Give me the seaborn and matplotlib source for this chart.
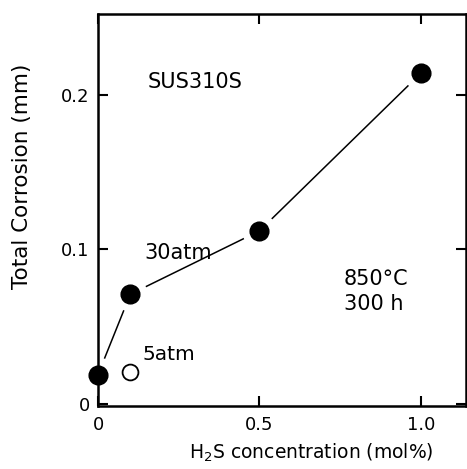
import matplotlib
matplotlib.use("Agg")
import matplotlib.pyplot as plt
import seaborn as sns
import pandas as pd

# ---- data ----
conc_30 = [0.0, 0.1, 0.5, 1.0]
corr_30 = [0.019, 0.071, 0.112, 0.214]
conc_5 = [0.1]
corr_5 = [0.021]
xticks = [0.0, 0.5, 1.0]
xticklabels = ["0", "0.5", "1.0"]
yticks = [0.0, 0.1, 0.2]
yticklabels = ["0", "0.1", "0.2"]

sns.set_theme(style="ticks")
plt.rcParams['font.family'] = ['DejaVu Sans']
plt.rcParams['text.color'] = 'black'
plt.rcParams['axes.labelcolor'] = 'black'
plt.rcParams['xtick.color'] = 'black'
plt.rcParams['ytick.color'] = 'black'

df30 = pd.DataFrame({"conc": conc_30, "corr": corr_30})
df5 = pd.DataFrame({"conc": conc_5, "corr": corr_5})

fig = plt.figure(figsize=(4.67, 4.69), dpi=100)
ax = fig.add_axes([98/467, 63/469, 368/467, 392/469])

sns.lineplot(data=df30, x="conc", y="corr", ax=ax, color="black", linewidth=1.1,
             zorder=2, estimator=None, sort=False)
# white halos to create gaps between line and markers
sns.scatterplot(data=df30, x="conc", y="corr", ax=ax, s=620, color="white",
                edgecolor="none", zorder=3, clip_on=False, legend=False)
sns.scatterplot(data=df30, x="conc", y="corr", ax=ax, s=180, color="black",
                edgecolor="black", zorder=6, clip_on=False, legend=False)
sns.scatterplot(data=df5, x="conc", y="corr", ax=ax, s=130, color="white",
                edgecolor="black", linewidth=1.3, zorder=6, clip_on=False, legend=False)

ax.set_xlim(0.0, 1.14)
ax.set_ylim(-0.0013, 0.2524)

for side in ["left", "right", "top", "bottom"]:
    ax.spines[side].set_linewidth(1.8)
    ax.spines[side].set_color("black")
    ax.spines[side].set_zorder(5)

ax.set_xticks(xticks)
ax.set_xticklabels(xticklabels)
ax.set_yticks(yticks)
ax.set_yticklabels(yticklabels)
ax.tick_params(axis="both", direction="in", length=7, width=1.5, colors="black",
               labelsize=13, top=True, right=True)
ax.tick_params(axis="x", pad=7)
ax.tick_params(axis="y", pad=6)

ax.set_xlabel("H$_2$S concentration (mol%)", fontsize=13.5, color="black")
ax.set_ylabel("Total Corrosion (mm)", fontsize=15.5, color="black")
ax.xaxis.set_label_coords(0.58, -0.092)
ax.yaxis.set_label_coords(-0.18, 0.586)

fig.text(148/467, 1 - 82/469, "SUS310S", fontsize=15, va="center", ha="left", color="black")
ax.text(0.145, 0.098, "30atm", fontsize=15, va="center", ha="left", color="black")
ax.text(0.137, 0.032, "5atm", fontsize=14.5, va="center", ha="left", color="black")
ax.text(0.762, 0.0728, "850°C\n300 h", fontsize=15, va="center", ha="left",
        linespacing=1.35, color="black")

fig.savefig("out.png", dpi=100)
